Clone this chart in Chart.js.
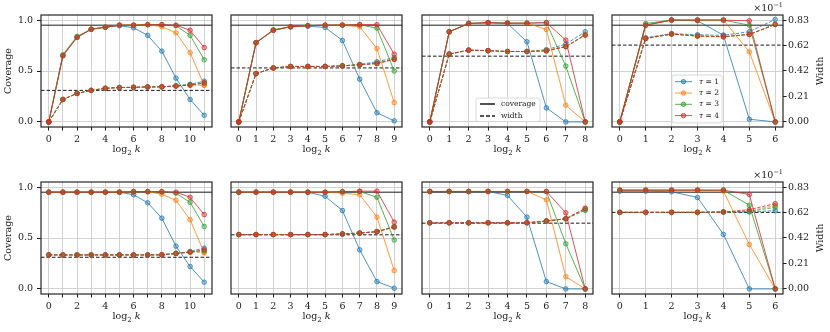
<!DOCTYPE html>
<html>
<head>
<meta charset="utf-8">
<script src="https://cdn.jsdelivr.net/npm/chart.js@4.4.0/dist/chart.umd.min.js"></script>
<style>
  body { margin: 0; background: #fff; }
  #wrap { position: relative; width: 830px; height: 332px; overflow: hidden; }
  #wrap canvas { position: absolute; }
</style>
</head>
<body>
<div id="wrap"></div>
<script>
// x axis is log2 k, running 0..kMax for each column
const kMax = [11, 9, 8, 6];
const tauLabels = ['1', '2', '3', '4'];
const tauColors = ['31,119,180', '255,127,14', '44,160,44', '214,39,40'];
const nominalCoverage = 0.95;
const coverageTicks = [0, 0.5, 1.0];
const widthTicks = [0, 0.21, 0.42, 0.62, 0.83];   // x 10^-1
const targetWidth = [0.257, 0.44, 0.536, 0.626, 0.258, 0.441, 0.536, 0.624];

// coverage, one row per tau = 1..4
const coverage1 = [
  [0, 0.65, 0.83, 0.91, 0.93, 0.945, 0.925, 0.85, 0.695, 0.43, 0.22, 0.065],
  [0, 0.65, 0.83, 0.91, 0.93, 0.95, 0.95, 0.955, 0.935, 0.875, 0.68, 0.36],
  [0, 0.66, 0.84, 0.91, 0.93, 0.95, 0.95, 0.955, 0.955, 0.945, 0.85, 0.61],
  [0, 0.65, 0.83, 0.91, 0.93, 0.95, 0.95, 0.955, 0.955, 0.95, 0.90, 0.73]
];
const coverage2 = [
  [0, 0.777, 0.90, 0.934, 0.94, 0.928, 0.80, 0.42, 0.09, 0.01],
  [0, 0.777, 0.90, 0.934, 0.945, 0.95, 0.95, 0.934, 0.72, 0.19],
  [0, 0.78, 0.905, 0.935, 0.945, 0.95, 0.95, 0.955, 0.92, 0.50],
  [0, 0.777, 0.90, 0.935, 0.945, 0.95, 0.952, 0.955, 0.955, 0.665]
];
const coverage3 = [
  [0, 0.885, 0.967, 0.974, 0.967, 0.787, 0.138, 0, 0],
  [0, 0.885, 0.967, 0.974, 0.97, 0.97, 0.908, 0.164, 0],
  [0, 0.885, 0.967, 0.974, 0.97, 0.97, 0.975, 0.548, 0],
  [0, 0.885, 0.967, 0.975, 0.97, 0.97, 0.975, 0.803, 0]
];
const coverage4 = [
  [0, 0.95, 1.0, 0.993, 0.852, 0.026, 0],
  [0, 0.95, 1.0, 1.0, 1.0, 0.689, 0],
  [0, 0.967, 1.0, 1.0, 1.0, 0.95, 0],
  [0, 0.95, 1.0, 1.0, 1.0, 0.993, 0]
];
const coverage5 = [
  [0.95, 0.95, 0.95, 0.95, 0.95, 0.95, 0.925, 0.846, 0.695, 0.42, 0.22, 0.066],
  [0.95, 0.95, 0.95, 0.95, 0.95, 0.95, 0.955, 0.955, 0.93, 0.87, 0.68, 0.354],
  [0.95, 0.95, 0.95, 0.95, 0.95, 0.95, 0.955, 0.955, 0.955, 0.94, 0.85, 0.613],
  [0.95, 0.95, 0.95, 0.95, 0.95, 0.95, 0.955, 0.955, 0.955, 0.95, 0.90, 0.73]
];
const coverage6 = [
  [0.95, 0.95, 0.95, 0.95, 0.95, 0.91, 0.77, 0.384, 0.072, 0.007],
  [0.95, 0.95, 0.95, 0.95, 0.95, 0.95, 0.94, 0.925, 0.705, 0.18],
  [0.95, 0.95, 0.95, 0.95, 0.95, 0.95, 0.955, 0.957, 0.90, 0.48],
  [0.95, 0.95, 0.95, 0.95, 0.95, 0.95, 0.955, 0.96, 0.96, 0.656]
];
const coverage7 = [
  [0.957, 0.957, 0.957, 0.957, 0.918, 0.705, 0.072, 0, 0],
  [0.957, 0.957, 0.957, 0.957, 0.957, 0.957, 0.875, 0.12, 0],
  [0.957, 0.957, 0.957, 0.957, 0.957, 0.957, 0.957, 0.443, 0],
  [0.957, 0.957, 0.957, 0.957, 0.957, 0.957, 0.957, 0.748, 0]
];
const coverage8 = [
  [0.96, 0.96, 0.954, 0.898, 0.536, 0, 0],
  [0.97, 0.97, 0.97, 0.97, 0.96, 0.437, 0],
  [0.97, 0.97, 0.97, 0.97, 0.97, 0.822, 0],
  [0.97, 0.97, 0.97, 0.97, 0.97, 0.928, 0]
];

// interval width (x 10^-1), one row per tau = 1..4
const width1 = [
  [0, 0.183, 0.232, 0.257, 0.274, 0.28, 0.282, 0.285, 0.286, 0.295, 0.307, 0.332],
  [0, 0.183, 0.232, 0.257, 0.274, 0.28, 0.282, 0.285, 0.286, 0.293, 0.300, 0.299],
  [0, 0.183, 0.232, 0.257, 0.274, 0.28, 0.282, 0.285, 0.286, 0.293, 0.302, 0.315],
  [0, 0.183, 0.232, 0.257, 0.274, 0.28, 0.282, 0.285, 0.286, 0.292, 0.299, 0.320]
];
const width2 = [
  [0, 0.394, 0.44, 0.452, 0.452, 0.452, 0.457, 0.469, 0.49, 0.525],
  [0, 0.394, 0.44, 0.452, 0.452, 0.452, 0.457, 0.466, 0.478, 0.515],
  [0, 0.394, 0.44, 0.452, 0.452, 0.452, 0.457, 0.466, 0.477, 0.512],
  [0, 0.394, 0.44, 0.452, 0.452, 0.452, 0.457, 0.465, 0.476, 0.509]
];
const width3 = [
  [0, 0.553, 0.585, 0.581, 0.574, 0.574, 0.589, 0.634, 0.735],
  [0, 0.553, 0.585, 0.581, 0.574, 0.574, 0.581, 0.615, 0.71],
  [0, 0.553, 0.585, 0.581, 0.574, 0.574, 0.580, 0.614, 0.71],
  [0, 0.553, 0.585, 0.581, 0.574, 0.574, 0.579, 0.613, 0.707]
];
const width4 = [
  [0, 0.686, 0.72, 0.71, 0.706, 0.735, 0.835],
  [0, 0.68, 0.716, 0.70, 0.694, 0.713, 0.795],
  [0, 0.68, 0.716, 0.70, 0.694, 0.713, 0.795],
  [0, 0.68, 0.716, 0.70, 0.694, 0.713, 0.795]
];
const width5 = [
  [0.277, 0.277, 0.277, 0.277, 0.277, 0.277, 0.277, 0.277, 0.278, 0.29, 0.305, 0.332],
  [0.277, 0.277, 0.277, 0.277, 0.277, 0.277, 0.277, 0.277, 0.278, 0.289, 0.300, 0.299],
  [0.277, 0.277, 0.277, 0.277, 0.277, 0.277, 0.277, 0.277, 0.278, 0.289, 0.301, 0.310],
  [0.277, 0.277, 0.277, 0.277, 0.277, 0.277, 0.277, 0.277, 0.278, 0.288, 0.299, 0.319]
];
const width6 = [
  [0.443, 0.443, 0.443, 0.443, 0.443, 0.443, 0.448, 0.455, 0.468, 0.509],
  [0.443, 0.443, 0.443, 0.443, 0.443, 0.443, 0.448, 0.455, 0.467, 0.505],
  [0.443, 0.443, 0.443, 0.443, 0.443, 0.443, 0.448, 0.455, 0.467, 0.505],
  [0.443, 0.443, 0.443, 0.443, 0.443, 0.443, 0.448, 0.455, 0.466, 0.504]
];
const width7 = [
  [0.539, 0.539, 0.539, 0.539, 0.539, 0.539, 0.553, 0.572, 0.647],
  [0.539, 0.539, 0.539, 0.539, 0.539, 0.539, 0.553, 0.572, 0.655],
  [0.539, 0.539, 0.539, 0.539, 0.539, 0.539, 0.553, 0.572, 0.640],
  [0.539, 0.539, 0.539, 0.539, 0.539, 0.539, 0.553, 0.572, 0.658]
];
const width8 = [
  [0.624, 0.624, 0.624, 0.624, 0.627, 0.627, 0.638],
  [0.624, 0.624, 0.624, 0.624, 0.627, 0.635, 0.680],
  [0.624, 0.624, 0.624, 0.624, 0.627, 0.632, 0.665],
  [0.624, 0.624, 0.624, 0.624, 0.627, 0.646, 0.695]
];

const coverages = [coverage1, coverage2, coverage3, coverage4, coverage5, coverage6, coverage7, coverage8];
const widths = [width1, width2, width3, width4, width5, width6, width7, width8];

// layout of the 2x4 grid (plot area pixels)
const colLeft = [41, 231, 422, 612];
const rowTop = [15, 182];
const plotW = 171, plotH = 112;
const padL = 40, padR = 48, padT = 15, padB = 40;
const serif = '"DejaVu Serif", serif';
const ink = '#1a1a1a';

function rgba(c, a) { return 'rgba(' + c + ',' + a + ')'; }

function drawLogK(ctx, cx, y) {
  const f1 = '9.5px ' + serif, f2 = '7px ' + serif, f3 = 'italic 9.5px ' + serif;
  ctx.font = f1; const w1 = ctx.measureText('log').width;
  ctx.font = f2; const w2 = ctx.measureText('2').width;
  ctx.font = f3; const w3 = ctx.measureText('k').width;
  let x = cx - (w1 + w2 + 3 + w3) / 2;
  ctx.textAlign = 'left'; ctx.textBaseline = 'alphabetic';
  ctx.font = f1; ctx.fillText('log', x, y); x += w1;
  ctx.font = f2; ctx.fillText('2', x, y + 2.5); x += w2 + 3;
  ctx.font = f3; ctx.fillText('k', x, y);
}

function legendBox(ctx, x, y, w, h) {
  ctx.save();
  ctx.beginPath();
  ctx.roundRect(x, y, w, h, 2);
  ctx.fillStyle = 'rgba(255,255,255,0.8)';
  ctx.fill();
  ctx.strokeStyle = '#d0d0d0';
  ctx.lineWidth = 0.8;
  ctx.stroke();
  ctx.restore();
}

const panelDeco = {
  id: 'panelDeco',
  beforeDatasetsDraw(chart, args, o) {
    const { ctx, chartArea: a, scales } = chart;
    ctx.save();
    ctx.beginPath();
    ctx.rect(a.left, a.top, a.width, a.height);
    ctx.clip();
    ctx.strokeStyle = ink;
    ctx.lineWidth = 1;
    let y = scales.y.getPixelForValue(nominalCoverage);
    ctx.beginPath(); ctx.moveTo(a.left, y); ctx.lineTo(a.right, y); ctx.stroke();
    y = scales.y1.getPixelForValue(o.target);
    ctx.setLineDash([3.5, 2]);
    ctx.beginPath(); ctx.moveTo(a.left, y); ctx.lineTo(a.right, y); ctx.stroke();
    ctx.restore();
  },
  afterDraw(chart, args, o) {
    const { ctx, chartArea: a } = chart;
    ctx.save();
    ctx.strokeStyle = '#262626';
    ctx.lineWidth = 1.2;
    ctx.strokeRect(a.left, a.top, a.width, a.height);

    ctx.fillStyle = ink;
    drawLogK(ctx, (a.left + a.right) / 2, a.bottom + 25);

    const mid = (a.top + a.bottom) / 2;
    ctx.font = '9.5px ' + serif;
    ctx.textAlign = 'center';
    ctx.textBaseline = 'middle';
    if (o.col === 0) {
      ctx.save(); ctx.translate(a.left - 32, mid); ctx.rotate(-Math.PI / 2);
      ctx.fillText('Coverage', 0, 0); ctx.restore();
    }
    if (o.col === 3) {
      ctx.save(); ctx.translate(a.right + 38, mid); ctx.rotate(-Math.PI / 2);
      ctx.fillText('Width', 0, 0); ctx.restore();
      // offset text x10^-1
      ctx.textBaseline = 'alphabetic';
      ctx.textAlign = 'left';
      ctx.font = '6.5px ' + serif;
      const ws = ctx.measureText('\u22121').width;
      ctx.font = '9.5px ' + serif;
      const wm = ctx.measureText('\u00d710').width;
      const x0 = a.right - ws - wm;
      ctx.fillText('\u00d710', x0, a.top - 4);
      ctx.font = '6.5px ' + serif;
      ctx.fillText('\u22121', x0 + wm, a.top - 8);
    }

    if (o.row === 0 && o.col === 2) {
      const bx = a.left + 54, by = a.top + 83;
      legendBox(ctx, bx, by, 64, 23.5);
      ctx.strokeStyle = ink; ctx.lineWidth = 1.5;
      const rows = [['coverage', []], ['width', [4, 2]]];
      rows.forEach((r, i) => {
        const yy = by + 6 + i * 12;
        ctx.setLineDash(r[1]);
        ctx.beginPath(); ctx.moveTo(bx + 4, yy); ctx.lineTo(bx + 19, yy); ctx.stroke();
        ctx.setLineDash([]);
        ctx.font = '7.5px ' + serif; ctx.textAlign = 'left'; ctx.textBaseline = 'middle';
        ctx.fillText(r[0], bx + 25, yy);
      });
    }
    if (o.row === 0 && o.col === 3) {
      const bx = a.left + 60, by = a.top + 60;
      legendBox(ctx, bx, by, 50, 48);
      tauLabels.forEach((t, i) => {
        const yy = by + 6.7 + i * 11.3;
        ctx.strokeStyle = rgba(tauColors[i], 0.8); ctx.lineWidth = 1;
        ctx.beginPath(); ctx.moveTo(bx + 3, yy); ctx.lineTo(bx + 20, yy); ctx.stroke();
        ctx.beginPath(); ctx.arc(bx + 11.5, yy, 2.2, 0, Math.PI * 2);
        ctx.fillStyle = rgba(tauColors[i], 0.45); ctx.fill(); ctx.stroke();
        ctx.fillStyle = ink; ctx.textAlign = 'left'; ctx.textBaseline = 'middle';
        ctx.font = 'italic 7.5px ' + serif;
        ctx.fillText('\u03c4', bx + 27, yy);
        const wt = ctx.measureText('\u03c4').width;
        ctx.font = '7.5px ' + serif;
        ctx.fillText(' = ' + t, bx + 27 + wt, yy);
      });
    }
    ctx.restore();
  }
};

const wrap = document.getElementById('wrap');

for (let p = 0; p < 8; p++) {
  const row = Math.floor(p / 4), col = p % 4;
  const n = kMax[col];
  const ks = [];
  for (let k = 0; k <= n; k++) ks.push(k);

  const cv = document.createElement('canvas');
  cv.width = padL + plotW + padR;
  cv.height = padT + plotH + padB;
  cv.style.left = (colLeft[col] - padL) + 'px';
  cv.style.top = (rowTop[row] - padT) + 'px';
  cv.style.width = cv.width + 'px';
  cv.style.height = cv.height + 'px';
  wrap.appendChild(cv);

  const datasets = [];
  let seq = 0;
  for (let t = 0; t < 4; t++) {
    const c = tauColors[t];
    [[coverages[p][t], 'y', []], [widths[p][t], 'y1', [3.5, 1.6]]].forEach(s => {
      datasets.push({
        data: s[0].map((v, i) => ({ x: ks[i], y: v })),
        yAxisID: s[1],
        borderColor: rgba(c, 0.8),
        borderWidth: 1,
        borderDash: s[2],
        pointRadius: 2.3,
        pointBorderWidth: 0.9,
        pointBorderColor: rgba(c, 0.8),
        pointBackgroundColor: rgba(c, 0.4),
        tension: 0,
        fill: false,
        order: 100 - seq++
      });
    });
  }

  new Chart(cv, {
    type: 'line',
    data: { datasets: datasets },
    options: {
      responsive: false,
      animation: false,
      devicePixelRatio: 1,
      layout: { padding: { left: 0, right: 0, top: padT, bottom: 0 } },
      plugins: {
        legend: { display: false },
        tooltip: { enabled: false },
        panelDeco: { row: row, col: col, target: targetWidth[p] }
      },
      scales: {
        x: {
          type: 'linear',
          min: -0.05 * n,
          max: 1.05 * n,
          afterBuildTicks: s => { s.ticks = ks.map(v => ({ value: v })); },
          afterFit: s => { s.height = padB; },
          border: { display: false },
          grid: { color: '#d2d2d2', lineWidth: 1, tickColor: ink, tickLength: 3.5 },
          ticks: {
            autoSkip: false, maxRotation: 0, padding: 3, color: ink,
            font: { family: serif, size: 9.5 },
            callback: v => (n > 9 && v % 2) ? '' : String(v)
          }
        },
        y: {
          position: 'left',
          min: -0.05,
          max: 1.05,
          afterBuildTicks: s => { s.ticks = coverageTicks.map(v => ({ value: v })); },
          afterFit: s => { s.width = padL; },
          border: { display: false },
          grid: { color: '#d2d2d2', lineWidth: 1, tickColor: ink, tickLength: 4, drawTicks: col === 0 },
          ticks: {
            display: col === 0, padding: 4, color: ink,
            font: { family: serif, size: 9.5 },
            callback: v => v.toFixed(1)
          }
        },
        y1: {
          position: 'right',
          display: col === 3,
          min: -0.05 * 0.83,
          max: 1.05 * 0.83,
          afterBuildTicks: s => { s.ticks = widthTicks.map(v => ({ value: v })); },
          afterFit: s => { s.width = padR; },
          border: { display: false },
          grid: { drawOnChartArea: false, tickColor: ink, tickLength: 3.5 },
          ticks: {
            padding: 1.5, color: ink,
            font: { family: serif, size: 9.5 },
            callback: v => v.toFixed(2)
          }
        }
      }
    },
    plugins: [panelDeco]
  });
}
</script>
</body>
</html>
